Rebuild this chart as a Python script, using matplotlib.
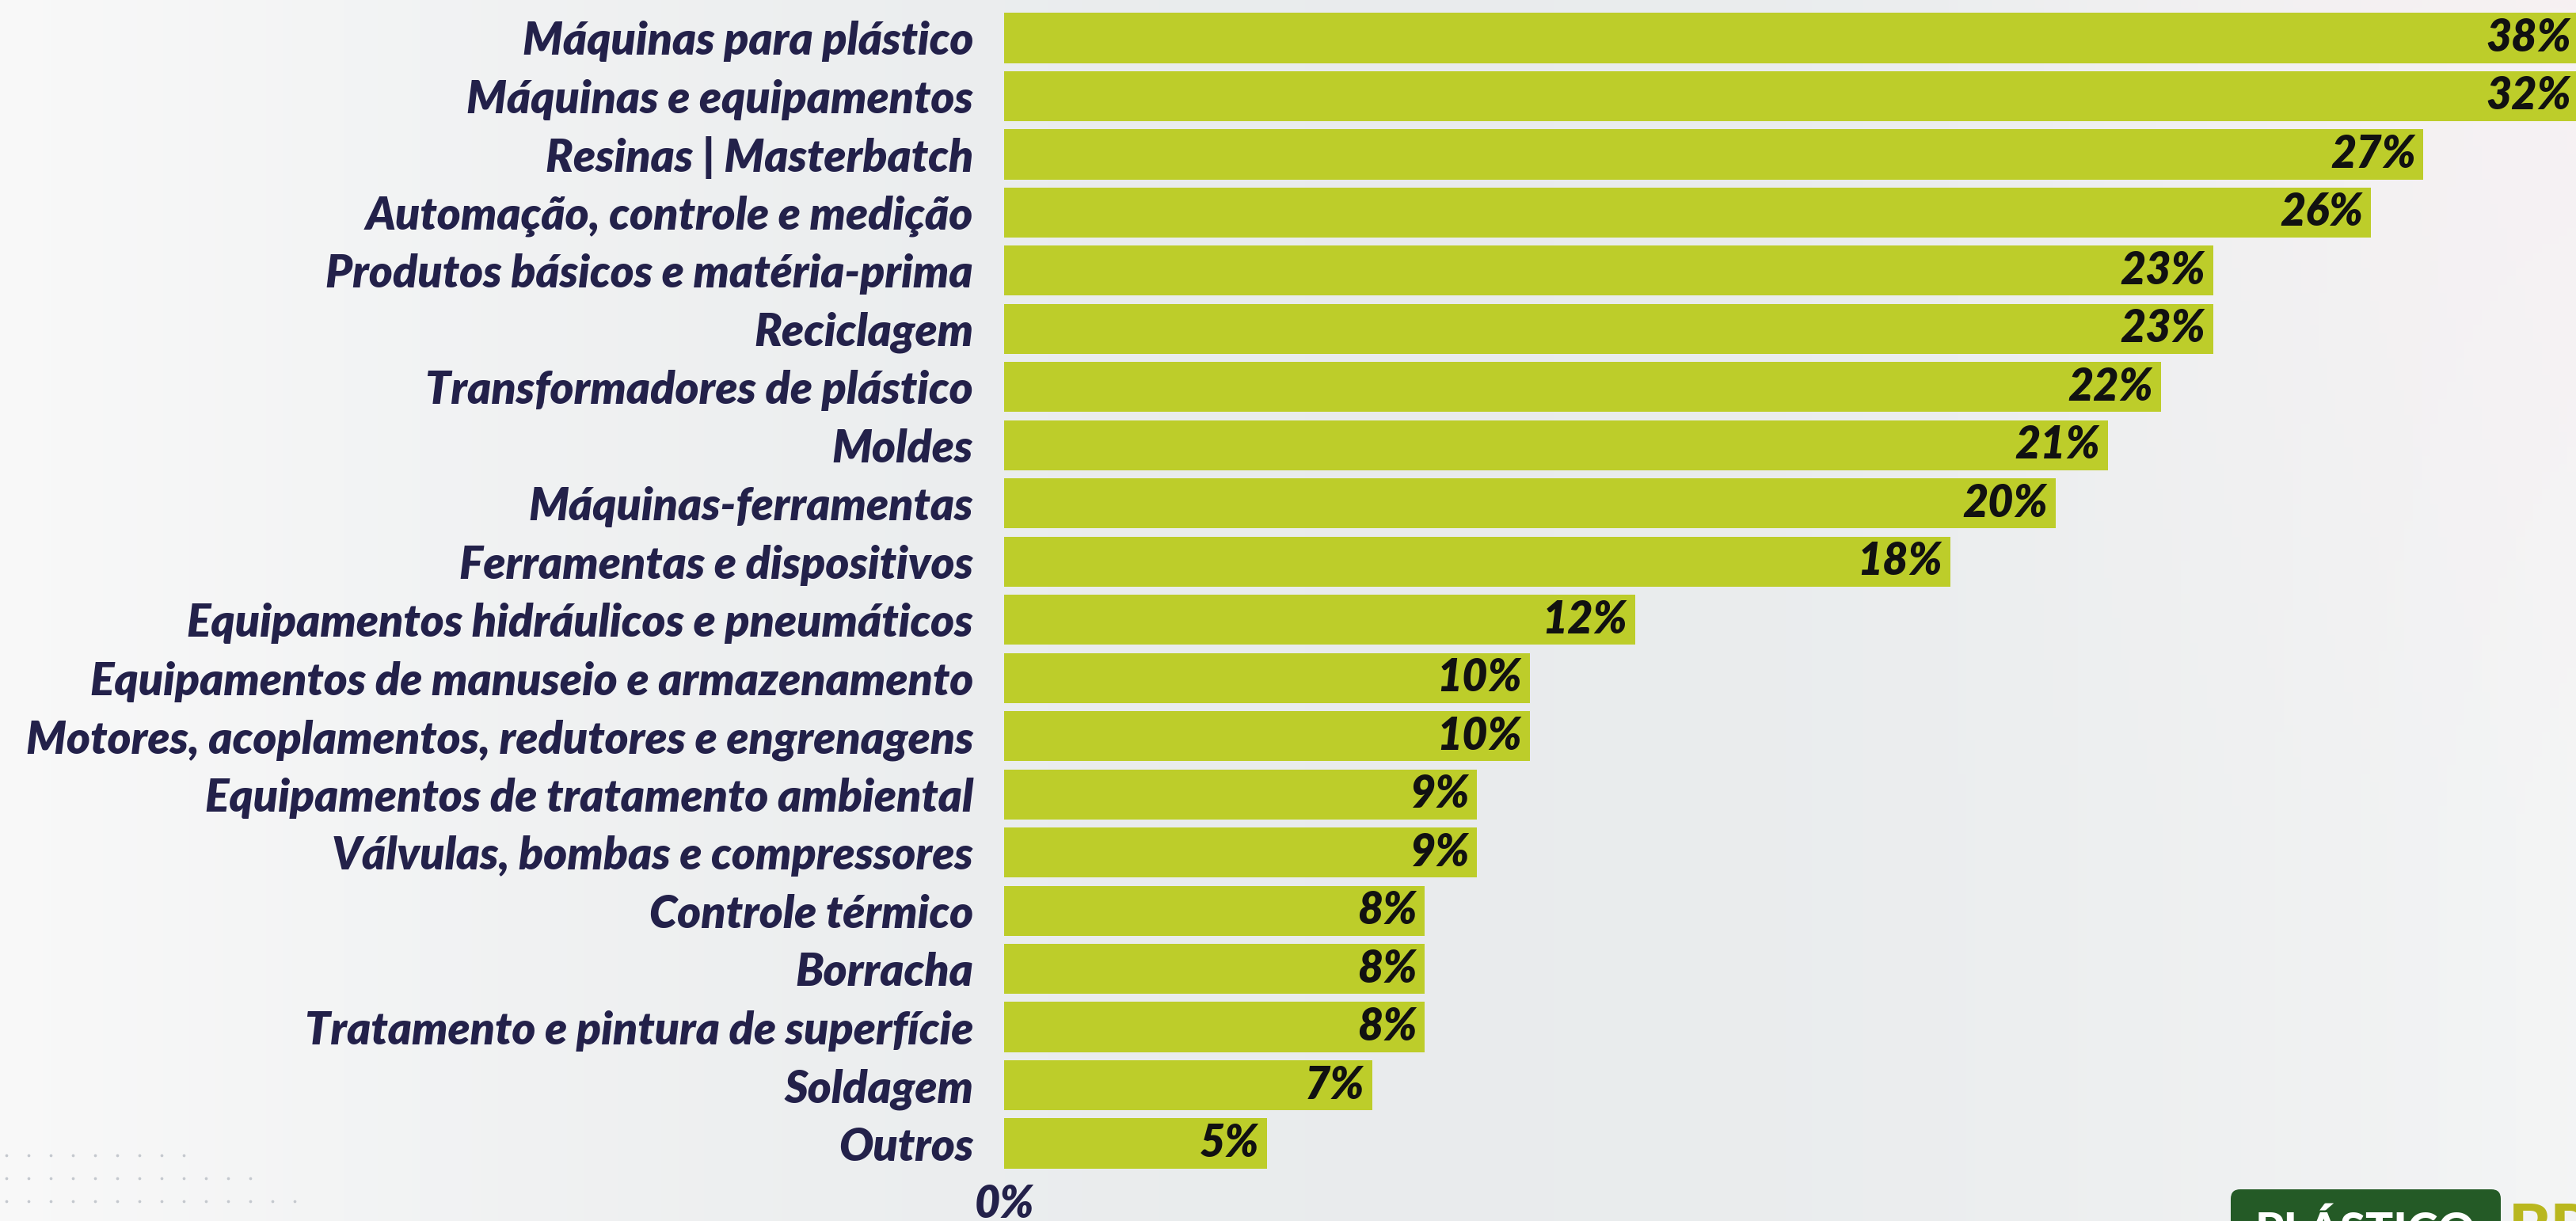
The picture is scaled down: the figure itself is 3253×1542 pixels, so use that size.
import matplotlib.pyplot as plt
from matplotlib.patches import FancyBboxPatch
import numpy as np

# ---------------- datos ----------------
categorias = [
    'Máquinas para plástico',
    'Máquinas e equipamentos',
    'Resinas | Masterbatch',
    'Automação, controle e medição',
    'Produtos básicos e matéria-prima',
    'Reciclagem',
    'Transformadores de plástico',
    'Moldes',
    'Máquinas-ferramentas',
    'Ferramentas e dispositivos',
    'Equipamentos hidráulicos e pneumáticos',
    'Equipamentos de manuseio e armazenamento',
    'Motores, acoplamentos, redutores e engrenagens',
    'Equipamentos de tratamento ambiental',
    'Válvulas, bombas e compressores',
    'Controle térmico',
    'Borracha',
    'Tratamento e pintura de superfície',
    'Soldagem',
    'Outros',
]
valores = [38, 32, 27, 26, 23, 23, 22, 21, 20, 18, 12, 10, 10, 9, 9, 8, 8, 8, 7, 5]
xticks_val = [0]
xticks_lab = ['0%']

verde = '#bdcd2a'
azul = '#23214a'
W, H = 3253, 1542

plt.rcParams['font.family'] = ['Lato', 'DejaVu Sans']

fig = plt.figure(figsize=(W / 100, H / 100), dpi=100)

# fondo con degradado suave
bg = fig.add_axes([0, 0, 1, 1])
gx = np.linspace(0, 1, 300)
gy = np.linspace(0, 1, 150)
X, Y = np.meshgrid(gx, gy)
c1 = np.array([0.975, 0.975, 0.975])
c2 = np.array([0.915, 0.925, 0.93])
c3 = np.array([0.97, 0.94, 0.95])
t = np.clip(np.sin(X * np.pi * 0.9), 0, 1)[..., None]
img = c1 * (1 - t) + c2 * t
p = np.clip((X - 0.75) * 3, 0, 1) * np.clip(1 - Y * 1.5, 0, 1)
img = img * (1 - p[..., None]) + c3 * p[..., None]
bg.imshow(img, extent=[0, W, H, 0], aspect='auto')
bg.set_xlim(0, W)
bg.set_ylim(H, 0)
bg.axis('off')

# puntitos decorativos abajo a la izquierda
for fila, (yy, xmax) in enumerate([(1459, 260), (1488, 325), (1517, 380)]):
    xs = np.arange(8, xmax, 28)
    bg.scatter(xs, [yy] * len(xs), s=7, color='#c4c8ce', linewidths=0)

# logo (recortado)
bg.add_patch(FancyBboxPatch((2817, 1502), 341, 80, boxstyle='round,pad=0,rounding_size=12',
                            facecolor='#245a26', edgecolor='none'))
bg.text(2987, 1556, 'PLÁSTICO', color='white', fontsize=42, fontweight='black',
        ha='center', va='center', clip_on=True)
bg.text(3168, 1556, 'BR', color='#b9b71e', fontsize=58, fontweight='black',
        ha='left', va='center', clip_on=True)

# gráfico de barras
ax = fig.add_axes([1268 / W, 0.0397, 1 - 1268 / W, 0.953])
ax.patch.set_alpha(0)
y = np.arange(len(categorias))
ax.barh(y, valores, height=0.86, color=verde, edgecolor='none')
xmax = 29.9
ax.set_xlim(0, xmax)
ax.set_ylim(len(categorias) - 0.5, -0.5)
ax.set_yticks(y)
ax.set_yticklabels(categorias, fontsize=41, fontweight='heavy', style='italic', color=azul)
ax.set_xticks(xticks_val)
ax.set_xticklabels(xticks_lab, fontsize=40, fontweight='heavy', style='italic', color=azul)
ax.tick_params(axis='y', length=0, pad=28)
ax.tick_params(axis='x', length=0, pad=10)
for s in ax.spines.values():
    s.set_visible(False)

for yi, v in zip(y, valores):
    xv = min(v, xmax)
    off = -7 if v <= xmax else -4
    ax.annotate(f'{v}%', (xv, yi), xytext=(off, 0), textcoords='offset points',
                ha='right', va='center', fontsize=40, fontweight='heavy',
                style='italic', color='#111111', clip_on=False)

fig.savefig('out.png', dpi=100)
